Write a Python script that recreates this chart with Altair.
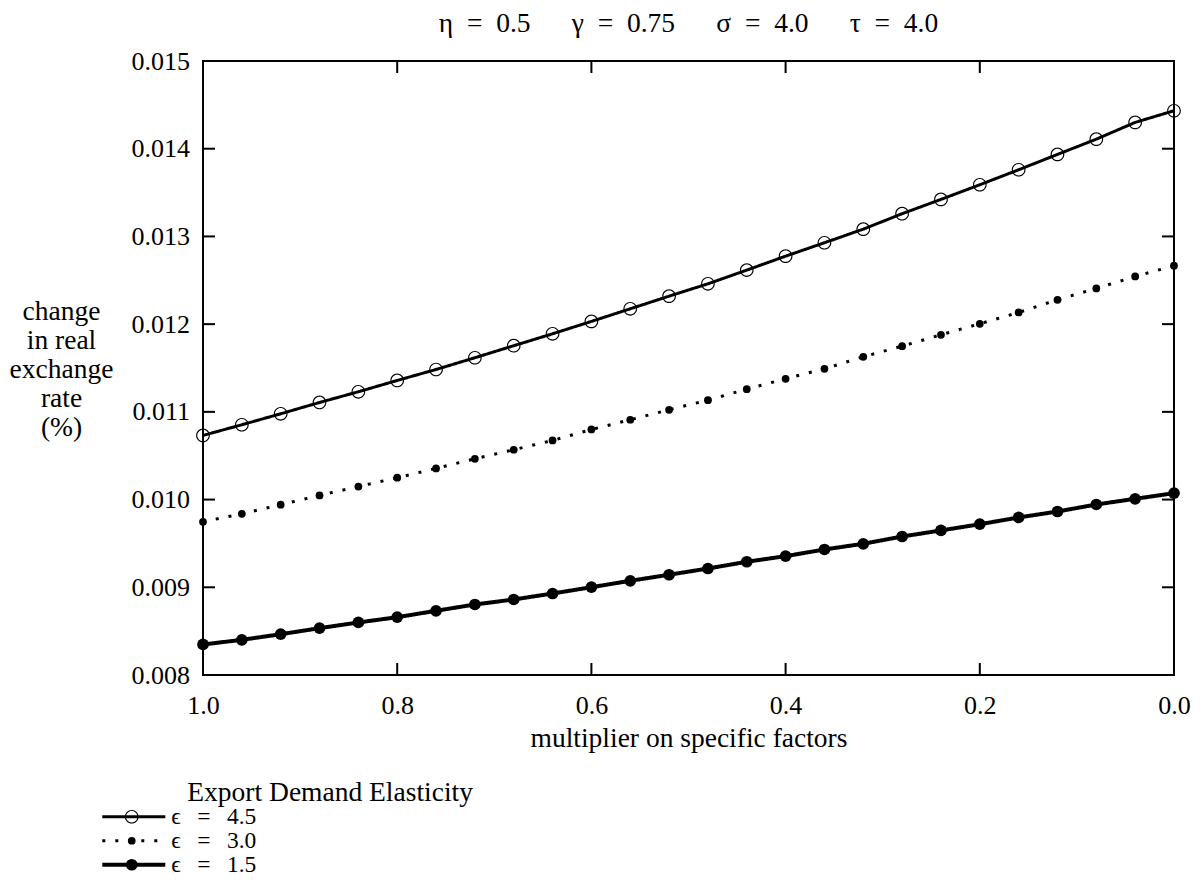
import altair as alt
import pandas as pd

# ---------------- data ----------------
x_vals = [1.00, 0.96, 0.92, 0.88, 0.84, 0.80, 0.76, 0.72, 0.68, 0.64, 0.60, 0.56, 0.52,
          0.48, 0.44, 0.40, 0.36, 0.32, 0.28, 0.24, 0.20, 0.16, 0.12, 0.08, 0.04, 0.00]

series_labels = ["ϵ\u2002\u2009=\u2002\u20094.5", "ϵ\u2002\u2009=\u2002\u20093.0",
                 "ϵ\u2002\u2009=\u2002\u20091.5"]

y_eps45 = [0.010731, 0.010853, 0.010978, 0.011107, 0.011229, 0.011358, 0.011483,
           0.011617, 0.011754, 0.011890, 0.012031, 0.012175, 0.012319, 0.012460,
           0.012616, 0.012775, 0.012928, 0.013083, 0.013259, 0.013422, 0.013589,
           0.013760, 0.013935, 0.014109, 0.014300, 0.014433]

y_eps30 = [0.009747, 0.009838, 0.009941, 0.010047, 0.010149, 0.010249, 0.010355,
           0.010465, 0.010568, 0.010674, 0.010799, 0.010910, 0.011024, 0.011133,
           0.011259, 0.011377, 0.011491, 0.011628, 0.011749, 0.011879, 0.012004,
           0.012133, 0.012278, 0.012407, 0.012544, 0.012666]

y_eps15 = [0.008348, 0.008401, 0.008465, 0.008534, 0.008599, 0.008659, 0.008732,
           0.008804, 0.008861, 0.008929, 0.009001, 0.009074, 0.009143, 0.009214,
           0.009291, 0.009355, 0.009431, 0.009496, 0.009579, 0.009648, 0.009719,
           0.009796, 0.009864, 0.009944, 0.010009, 0.010073]

x_tick_values = [1.0, 0.8, 0.6, 0.4, 0.2, 0.0]
x_inner_ticks = [0.8, 0.6, 0.4, 0.2]
y_tick_values = [0.008, 0.009, 0.010, 0.011, 0.012, 0.013, 0.014, 0.015]
y_inner_ticks = [0.009, 0.010, 0.011, 0.012, 0.013, 0.014]

title_text = ("η\u2002=\u20020.5\u2003\u2002γ\u2002=\u20020.75\u2003\u2002"
              "σ\u2002=\u20024.0\u2003\u2002τ\u2002=\u20024.0")
x_title = "multiplier on specific factors"
y_title = ["change", "in real", "exchange", "rate", "(%)"]
legend_title = "Export Demand Elasticity"

# ---------------- table ----------------
rows = []
for lab, ys in zip(series_labels, [y_eps45, y_eps30, y_eps15]):
    for xv, yv in zip(x_vals, ys):
        rows.append({"x": xv, "y": yv, "series": lab, "series_pt": lab, "series_t": lab})
df = pd.DataFrame(rows)
xt_df = pd.DataFrame({"x": x_inner_ticks})
yt_df = pd.DataFrame({"y": y_inner_ticks})

FONT = "Liberation Serif"
FS = 26
TFS = 27.5
LFS = 23.5
W, H = 971, 614
TL = 12  # inward tick length
ROWPAD = 0
LEG_Y = 744.5

# open-circle marker: a thin ring (unit-square symbol path)
RING = ("M-1,0A1,1,0,1,0,1,0A1,1,0,1,0,-1,0Z"
        "M-0.83,0A0.83,0.83,0,1,1,0.83,0A0.83,0.83,0,1,1,-0.83,0Z")

x_scale = alt.Scale(domain=[0, 1], reverse=True, nice=False, zero=False)
y_scale = alt.Scale(domain=[0.008, 0.015], nice=False, zero=False)

x_axis = alt.Axis(values=x_tick_values, format=".1f", title=x_title,
                  labelFlush=False, labelOverlap=False, labelPadding=17,
                  titleX=W / 2, titleY=71, titleAlign="center",
                  titleBaseline="alphabetic", titleAngle=0)
y_axis = alt.Axis(values=y_tick_values, format=".3f", title=y_title,
                  labelFlush=False, labelOverlap=False, labelPadding=13.5,
                  titleAngle=0, titleAlign="center", titleBaseline="middle",
                  titleX=-142, titleY=250.5, titleLineHeight=29)

X = alt.X("x:Q", scale=x_scale, axis=x_axis)
Y = alt.Y("y:Q", scale=y_scale, axis=y_axis)

legA = alt.Legend(title=None, orient="none", legendX=-102.7, legendY=LEG_Y,
                  symbolType="stroke", symbolSize=3969, symbolStrokeColor="black",
                  labelFont=FONT, labelFontSize=LFS, labelColor="black",
                  labelOffset=4, clipHeight=22.5, rowPadding=ROWPAD, padding=0,
                  labelBaseline="middle")
legB = alt.Legend(title=None, orient="none", legendX=-83, legendY=LEG_Y,
                  symbolFillColor="black", symbolStrokeWidth=0,
                  labelFont=FONT, labelFontSize=LFS, labelOpacity=0,
                  clipHeight=22.5, rowPadding=ROWPAD, padding=0)
legC = alt.Legend(title=legend_title, orient="none", legendX=-15.7, legendY=718,
                  titleFont=FONT, titleFontSize=TFS, titleFontWeight="normal",
                  titleColor="black", titlePadding=2, titleAnchor="start",
                  titleLimit=1000,
                  symbolOpacity=0, labelOpacity=0, padding=0,
                  labelFont=FONT, labelFontSize=LFS)

base = alt.Chart(df)

points = base.mark_point(filled=True, color="black", strokeWidth=0, opacity=1).encode(
    x=X, y=Y,
    shape=alt.Shape("series_pt:N", sort="descending",
                    scale=alt.Scale(type="ordinal", range=[RING, "circle", "circle"]),
                    legend=legB),
    size=alt.Size("series_pt:N", sort="descending",
                  scale=alt.Scale(type="ordinal", range=[188, 60, 137]), legend=legB),
)

lines = base.mark_line(color="black", strokeCap="butt").encode(
    x=X, y=Y,
    strokeDash=alt.StrokeDash("series:N", sort="descending",
                              scale=alt.Scale(type="ordinal",
                                              range=[[1, 0], [3, 10], [1, 0]]),
                              legend=legA),
    strokeWidth=alt.StrokeWidth("series:N", sort="descending",
                                scale=alt.Scale(type="ordinal", range=[3, 3, 4]),
                                legend=legA),
)

title_layer = base.mark_point(opacity=0).encode(
    x=X, y=Y,
    opacity=alt.Opacity("series_t:N", sort="descending",
                        scale=alt.Scale(type="ordinal", range=[0, 0, 0]), legend=legC),
)

tick_bottom = alt.Chart(xt_df).mark_rule(color="black", strokeWidth=2).encode(
    x=X, y=alt.value(H), y2=alt.value(H - TL))
tick_top = alt.Chart(xt_df).mark_rule(color="black", strokeWidth=2).encode(
    x=X, y=alt.value(0), y2=alt.value(TL))
tick_left = alt.Chart(yt_df).mark_rule(color="black", strokeWidth=2).encode(
    y=Y, x=alt.value(0), x2=alt.value(TL))
tick_right = alt.Chart(yt_df).mark_rule(color="black", strokeWidth=2).encode(
    y=Y, x=alt.value(W), x2=alt.value(W - TL))

chart = alt.layer(
    tick_bottom, tick_top, tick_left, tick_right, title_layer, points, lines
).properties(
    width=W, height=H,
    title=alt.TitleParams(text=title_text, font=FONT, fontSize=TFS, fontWeight="normal",
                          color="black", anchor="middle", offset=25, dy=36,
                          baseline="alphabetic"),
    autosize=alt.AutoSizeParams(type="none"),
    padding={"left": 195, "top": 53, "right": 20, "bottom": 200},
).configure_view(
    stroke="black", strokeWidth=2
).configure_title(
    font=FONT, fontSize=TFS, fontWeight="normal", color="black"
).configure_axis(
    domain=False, ticks=False, tickSize=0, grid=False,
    labelFont=FONT, labelFontSize=FS, labelColor="black",
    titleFont=FONT, titleFontSize=TFS, titleFontWeight="normal", titleColor="black",
)

chart.save("out.html", embed_options={"renderer": "svg", "actions": False})
